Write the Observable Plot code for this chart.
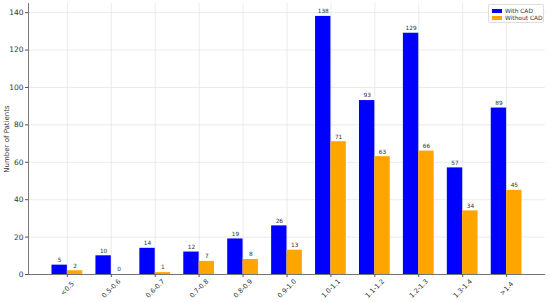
<!DOCTYPE html>
<html>
<head>
<meta charset="utf-8">
<script src="https://cdn.jsdelivr.net/npm/d3@7"></script>
<script src="https://cdn.jsdelivr.net/npm/@observablehq/plot@0.6"></script>
<style>
  html, body { margin: 0; padding: 0; background: #fff; }
  #wrap { position: relative; width: 550px; height: 302px; font-family: "DejaVu Sans", sans-serif; }
  #legend { position: absolute; left: 488px; top: 4px; width: 56px; height: 19px; box-sizing: border-box;
    border: 1px solid #ddd; border-radius: 2px; background: rgba(255,255,255,0.85); font-size: 5.9px; color: #333; padding: 2px 0 0 3px; white-space: nowrap; overflow: visible; }
  .row { display: flex; align-items: center; height: 7.5px; white-space: nowrap; }
  .sw { width: 10px; height: 3.6px; margin-right: 3px; flex: none; }
</style>
</head>
<body>
<div id="wrap">
  <div id="chart"></div>
  <div id="legend"></div>
</div>
<script>
const categories = ["<0.5","0.5-0.6","0.6-0.7","0.7-0.8","0.8-0.9","0.9-1.0","1.0-1.1","1.1-1.2","1.2-1.3","1.3-1.4",">1.4"];
const withCAD = [5,10,14,12,19,26,138,93,129,57,89];
const withoutCAD = [2,0,1,7,8,13,71,63,66,34,45];
const yTicks = [0,20,40,60,80,100,120,140];
const seriesNames = ["With CAD","Without CAD"];
const seriesColors = ["#0000ff","#ffa500"];

const barW = 0.35;
const idx = categories.map((_, i) => i);
const xDomain = [-0.885, categories.length - 1 + 0.885];
const rows = [];
categories.forEach((c, i) => {
  rows.push({i, s: 0, v: withCAD[i]});
  rows.push({i, s: 1, v: withoutCAD[i]});
});
const x1 = d => d.s === 0 ? d.i - barW : d.i;
const x2 = d => d.s === 0 ? d.i : d.i + barW;
const xm = d => d.s === 0 ? d.i - barW / 2 : d.i + barW / 2;

const chart = Plot.plot({
  width: 550,
  height: 302,
  marginLeft: 28,
  marginRight: 5,
  marginTop: 3,
  marginBottom: 28,
  style: {fontFamily: "DejaVu Sans, sans-serif", background: "white", color: "#333"},
  x: {type: "linear", domain: xDomain},
  y: {domain: [0, 144.9]},
  marks: [
    Plot.gridY(yTicks, {stroke: "#e3e3e3", strokeOpacity: 1, strokeWidth: 0.7}),
    Plot.gridX(idx, {stroke: "#e3e3e3", strokeOpacity: 1, strokeWidth: 0.7}),
    Plot.rectY(rows, {x1, x2, y1: 0, y2: "v", fill: d => seriesColors[d.s]}),
    Plot.text(rows, {x: xm, y: "v", text: d => String(d.v), dy: -5, fontSize: 5.8, fill: "#333"}),
    Plot.ruleY([0], {stroke: "#555", strokeWidth: 0.8}),
    Plot.ruleX([xDomain[0]], {stroke: "#555", strokeWidth: 0.8}),
    Plot.axisY({ticks: yTicks, tickSize: 3, tickPadding: 2, fontSize: 7.5, stroke: "#555",
      label: "Number of Patients", labelAnchor: "center", labelArrow: "none", labelOffset: 24}),
    Plot.axisX({ticks: idx, tickSize: 3, tickFormat: () => "", stroke: "#555", label: null}),
    Plot.text(categories, {x: (d, i) => i, y: 0, text: d => d, rotate: -45, dy: 14, textAnchor: "middle", fontSize: 6.6, fill: "#333", clip: false})
  ]
});
document.getElementById("chart").appendChild(chart);
chart.querySelectorAll("[aria-label='y-axis label']").forEach(e => e.setAttribute("font-size", "7"));

const legend = document.getElementById("legend");
seriesNames.forEach((n, k) => {
  const r = document.createElement("div");
  r.className = "row";
  r.innerHTML = `<div class="sw" style="background:${seriesColors[k]}"></div><span>${n}</span>`;
  legend.appendChild(r);
});
</script>
</body>
</html>
